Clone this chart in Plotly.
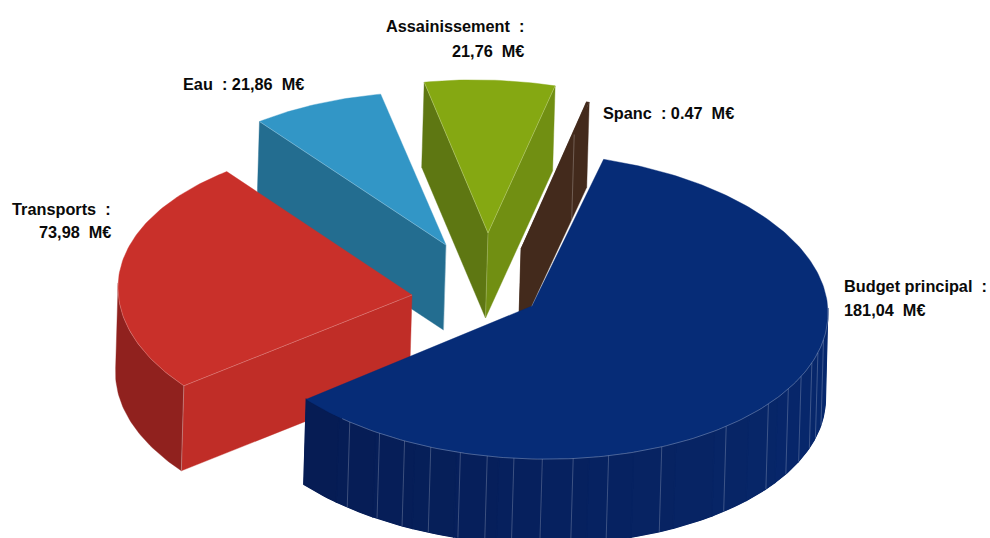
import math
import plotly.graph_objects as go

# ---- data ----
categories = ["Budget principal", "Transports", "Eau", "Assainissement", "Spanc"]
values = [181.04, 73.98, 21.86, 21.76, 0.47]
label_lines = [
    ["Budget principal\u00a0\u00a0:", "181,04\u00a0\u00a0M€"],
    ["Transports\u00a0\u00a0:", "73,98\u00a0\u00a0M€"],
    ["Eau\u00a0\u00a0: 21,86\u00a0\u00a0M€"],
    ["Assainissement\u00a0\u00a0:", "21,76\u00a0\u00a0M€"],
    ["Spanc\u00a0\u00a0: 0.47\u00a0\u00a0M€"],
]

# ---- look ----
top_colors = ["#062C77", "#C9302A", "#3296C6", "#85A812", "#432A1C"]
start_wall_colors = [None, "#C02D27", "#236D90", "#5E7712", "#432A1C"]
end_wall_colors = [None, None, None, "#718F12", "#432A1C"]
outer_wall_colors = [("#061C54", "#07296F"), ("#90211E", "#90211E"), None, None, None]
centers = {"Budget principal": (532, 306), "Transports": (412, 295), "Eau": (446, 245),
           "Assainissement": (488, 233), "Spanc": (521, 249)}
radii_x = {"Budget principal": 296, "Transports": 294, "Eau": 296, "Assainissement": 289, "Spanc": 282}
foreshorten = {"Budget principal": 2.2, "Transports": 1.0, "Eau": 0, "Assainissement": 0, "Spanc": 0}
draw_order = ["Eau", "Assainissement", "Spanc", "Transports", "Budget principal"]
label_pos = {
    "Budget principal": [(842, 286, "left"), (842, 310, "left")],
    "Transports": [(113, 209, "right"), (113, 232, "right")],
    "Eau": [(181, 84, "left")],
    "Assainissement": [(526, 26, "right"), (526, 51, "right")],
    "Spanc": [(601, 113, "left")],
}
blue_facets = [218, 211, 205.5, 200, 194, 188.7, 183.5, 178, 172, 165, 154, 139, 127, 120, 114.6, 109, 105, 100]

START, RY, SHEAR, DEPTH, DX = 14.0, 153, 0.025, 85, -2.5
PAGE_W, PAGE_H = 990, 538

total = sum(values)
spans = {}
a = START
for c, v in zip(categories, values):
    spans[c] = (a, a + v / total * 360)
    a = spans[c][1]


def ell(c, t):
    cx, cy = centers[c]
    r = math.radians(t)
    x = radii_x[c] * math.sin(r)
    return cx + x, cy - RY * math.cos(r) + SHEAR * x


def top(c, t):
    # slight angular foreshortening of the lower-left quadrant of the tilted disc
    if 180 < t < 280:
        t = t - foreshorten[c] * math.sin(math.pi * (t - 180) / 100)
    return ell(c, t)


def low(p):
    return p[0] + DX, p[1] + DEPTH


def arc(c, a0, a1, step=1.0):
    n = max(2, int(abs(a1 - a0) / step) + 1)
    return [top(c, a0 + (a1 - a0) * i / (n - 1)) for i in range(n)]


def mix(c1, c2, f):
    h = lambda s: [int(s[i:i + 2], 16) for i in (1, 3, 5)]
    return "#%02x%02x%02x" % tuple(round(p + (q - p) * f) for p, q in zip(h(c1), h(c2)))


fig = go.Figure()


def poly(pts, color, name, width=0.4):
    fig.add_trace(go.Scatter(x=[p[0] for p in pts] + [pts[0][0]], y=[p[1] for p in pts] + [pts[0][1]],
                             mode="lines", fill="toself", fillcolor=color,
                             line=dict(color=color, width=width), name=name, hoverinfo="name", showlegend=False))


def line(pts, color, width=0.8):
    fig.add_trace(go.Scatter(x=[p[0] for p in pts], y=[p[1] for p in pts], mode="lines",
                             line=dict(color=color, width=width), hoverinfo="skip", showlegend=False))


EDGE = "rgba(255,255,255,0.30)"
for c in draw_order:
    i = categories.index(c)
    a0, a1 = spans[c]
    apex = centers[c]
    # cut faces
    if start_wall_colors[i]:
        e = top(c, a0)
        poly([apex, e, low(e), low(apex)], start_wall_colors[i], c)
    if end_wall_colors[i]:
        e = top(c, a1)
        poly([apex, e, low(e), low(apex)], end_wall_colors[i], c)
    # outer wall
    if outer_wall_colors[i]:
        w0, w1 = max(a0, 88), min(a1, 272)
        whole = arc(c, w0, w1)
        far, near = outer_wall_colors[i]
        poly(whole + [low(p) for p in reversed(whole)], mix(far, near, 0.5), c)
        if far != near:
            bands = 16
            for b in range(bands):
                t = w0 + (w1 - w0) * b / bands
                t2 = w0 + (w1 - w0) * (b + 1) / bands
                seg = arc(c, t, t2)
                poly(seg + [low(p) for p in reversed(seg)], mix(near, far, b / (bands - 1)), c, 1.2)
    # top face
    pts = [apex] + arc(c, a0, a1)
    poly(pts, top_colors[i], c)
    # light edges on visible rims
    if c == "Budget principal":
        line(arc(c, 88, 222), "rgba(255,255,255,0.40)", 0.7)
        for t in blue_facets:
            p = ell(c, t)
            line([p, low(p)], "rgba(255,255,255,0.22)", 1)
    if c == "Transports":
        line(arc(c, a0, 272), "rgba(255,255,255,0.30)", 0.7)
        e = top(c, a0)
        line([apex, e], EDGE)
        line([e, low(e)], "rgba(255,255,255,0.40)")
    if c == "Eau":
        line([apex, top(c, a0)], EDGE)
        line([apex, low(apex)], "rgba(255,255,255,0.30)")
    if c == "Assainissement":
        line([apex, top(c, a0)], EDGE)
        line([apex, top(c, a1)], EDGE)
        line([apex, low(apex)], "rgba(255,255,255,0.25)")
    if c == "Spanc":
        e = top(c, a1)
        f = (apex[0] + (e[0] - apex[0]) * 0.78, apex[1] + (e[1] - apex[1]) * 0.78)
        line([f, low(f)], "rgba(255,255,255,0.30)")

ann = []
for c, lines in zip(categories, label_lines):
    for txt, (x, y, al) in zip(lines, label_pos[c]):
        ann.append(dict(x=x, y=y, xref="x", yref="y", text=txt, showarrow=False, xanchor=al, yanchor="middle",
                        align=al, font=dict(family="Liberation Sans", size=16.3, color="#0a0a0a", weight="bold")))

fig.update_layout(
    width=PAGE_W, height=PAGE_H, margin=dict(l=0, r=0, t=0, b=0), autosize=False,
    paper_bgcolor="white", plot_bgcolor="white", annotations=ann, showlegend=False,
    xaxis=dict(range=[0, PAGE_W], visible=False, fixedrange=True),
    yaxis=dict(range=[PAGE_H, 0], visible=False, fixedrange=True),
)
fig.write_html("out.html", config={"displayModeBar": False},
               default_width=f"{PAGE_W}px", default_height=f"{PAGE_H}px",
               post_script="document.body.style.margin='0';")
